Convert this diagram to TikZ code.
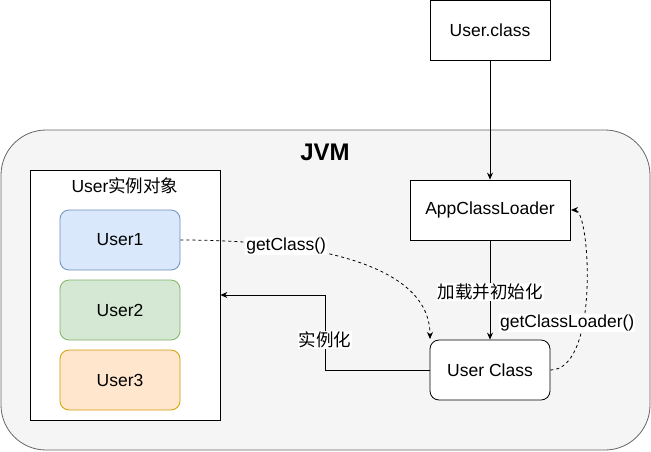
\documentclass[tikz,border=0pt]{standalone}
\usepackage{fontspec}
\setmainfont{Liberation Sans}
\newfontfamily\cjk{Noto Sans CJK SC}
\usetikzlibrary{arrows.meta}
\definecolor{jvmfill}{HTML}{F5F5F5}
\definecolor{jvmline}{HTML}{666666}
\definecolor{bluef}{HTML}{DAE8FC}
\definecolor{bluel}{HTML}{6C8EBF}
\definecolor{greenf}{HTML}{D5E8D4}
\definecolor{greenl}{HTML}{82B366}
\definecolor{orangef}{HTML}{FFE6CC}
\definecolor{orangel}{HTML}{D79B00}
\begin{document}
\begin{tikzpicture}[x=1pt,y=-1pt,
  font=\fontsize{17.5}{20}\selectfont,
  box/.style={draw=black,fill=white,minimum width=#1,minimum height=60pt,inner sep=0pt,line width=0.8pt},
  box/.default=120pt,
  rbox/.style={box,rounded corners=9pt},
  userbox/.style={rounded corners=9pt,minimum width=120pt,minimum height=60pt,inner sep=0pt,line width=0.8pt},
  arr/.style={-{Stealth[length=7pt,width=6pt]},line width=0.8pt},
  darr/.style={arr,dashed,dash pattern=on 3pt off 3pt},
  lbl/.style={fill=white,inner sep=1pt}]
\useasboundingbox (0,0) rectangle (651,451);
\draw[fill=jvmfill,draw=jvmline,line width=0.8pt,rounded corners=45pt] (1,130) rectangle (650,450);
\node[font=\fontsize{24}{26}\selectfont\bfseries] (jvm) at (325,152) {JVM};
\node[box] (userclassfile) at (490,30) {User.class};
\node[box=160pt] (acl) at (490,210) {AppClassLoader};
\node[rbox] (uc) at (490,370) {User Class};
\node[draw=black,fill=white,line width=0.8pt,minimum width=190pt,minimum height=250pt,inner sep=0pt] (cont) at (125,295) {};
\node (conttitle) at (125,186) {User{\cjk 实例对象}};
\node[userbox,fill=bluef,draw=bluel] (u1) at (120,240) {User1};
\node[userbox,fill=greenf,draw=greenl] (u2) at (120,310) {User2};
\node[userbox,fill=orangef,draw=orangel] (u3) at (120,380) {User3};
\draw[arr] (userclassfile.south) -- (acl.north);
\draw[arr] (acl.south) -- node[lbl,pos=0.52]{\cjk 加载并初始化} (uc.north);
\coordinate (gcend) at (430,339);
\draw[darr] (u1.east) .. controls (330,240) and (430,270) .. node[lbl,pos=0.26]{getClass()} (gcend);
\coordinate (gclend) at (571,210);
\draw[darr] (uc.east) .. controls (600,370) and (590,210) .. node[lbl,pos=0.36,xshift=-16pt]{getClassLoader()} (gclend);
\coordinate (bend1) at (325,370);
\coordinate (bend2) at (325,295);
\draw[arr] (uc.west) -- (bend1) -- node[lbl,pos=0.4]{\cjk 实例化} (bend2) -- (cont.east |- bend2);
\end{tikzpicture}
\end{document}
